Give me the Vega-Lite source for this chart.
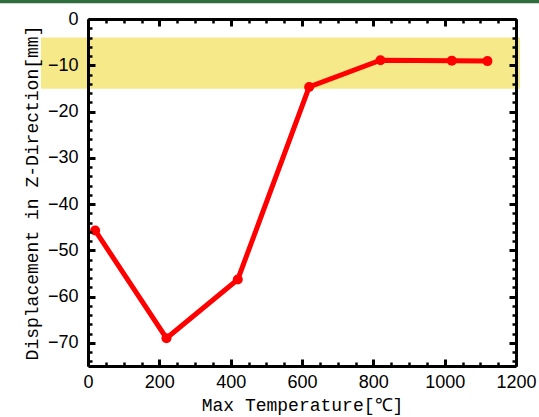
{
  "$schema": "https://vega.github.io/schema/vega-lite/v6.json",
  "width": 428,
  "height": 347,
  "autosize": {"type": "none"},
  "padding": {"left": 88, "top": 19, "right": 23, "bottom": 51},
  "background": "white",
  "view": {"stroke": null},
  "config": {
    "axis": {
      "grid": false,
      "domainColor": "black",
      "tickColor": "black",
      "labelColor": "black",
      "titleColor": "black",
      "labelFont": "Liberation Sans",
      "labelFontSize": 18,
      "titleFont": "Liberation Mono",
      "titleFontSize": 18,
      "titleFontWeight": "normal"
    }
  },
  "datasets": {
    "series": [
      {"t": 20, "d": -45.7},
      {"t": 220, "d": -69.0},
      {"t": 420, "d": -56.3},
      {"t": 620, "d": -14.7},
      {"t": 820, "d": -8.9},
      {"t": 1020, "d": -9.0},
      {"t": 1120, "d": -9.1}
    ],
    "band": [{"x1": -132, "x2": 1211, "y1": -4, "y2": -15.1}],
    "strip": [{"x1": -260, "x2": 1280, "y1": 3.4, "y2": 4.3}]
  },
  "layer": [
    {
      "data": {"name": "band"},
      "mark": {"type": "rect", "color": "#f5e98a", "opacity": 1},
      "encoding": {
        "x": {
          "field": "x1", "type": "quantitative",
          "scale": {"domain": [0, 1200], "nice": false, "zero": false},
          "axis": {
            "orient": "bottom", "title": "Max Temperature[℃]", "format": "d",
            "values": [0, 200, 400, 600, 800, 1000, 1200],
            "ticks": false, "domain": true, "domainWidth": 3, "zindex": 2,
            "labelPadding": 7, "titlePadding": 5, "labelFlush": false
          }
        },
        "x2": {"field": "x2"},
        "y": {
          "field": "y1", "type": "quantitative",
          "scale": {"domain": [-75, 0], "nice": false, "zero": false},
          "axis": {
            "orient": "left", "title": "Displacement in Z-Direction[mm]", "format": "d",
            "values": [0, -10, -20, -30, -40, -50, -60, -70],
            "ticks": false, "domain": true, "domainWidth": 3, "zindex": 2,
            "labelPadding": 10, "titlePadding": 6, "labelFlush": false
          }
        },
        "y2": {"field": "y2"}
      }
    },
    {
      "data": {"name": "strip"},
      "mark": {"type": "rect", "color": "#2f6e3c"},
      "encoding": {
        "x": {
          "field": "x1", "type": "quantitative",
          "axis": {
            "orient": "top", "title": null, "labels": false, "zindex": 2,
            "values": [0, 200, 400, 600, 800, 1000, 1200],
            "ticks": true, "tickSize": -7, "tickWidth": 3,
            "domain": true, "domainWidth": 3
          }
        },
        "x2": {"field": "x2"},
        "y": {
          "field": "y1", "type": "quantitative",
          "axis": {
            "orient": "right", "title": null, "labels": false, "zindex": 2,
            "values": [0, -10, -20, -30, -40, -50, -60, -70],
            "ticks": true, "tickSize": -7, "tickWidth": 3,
            "domain": true, "domainWidth": 3
          }
        },
        "y2": {"field": "y2"}
      }
    },
    {
      "data": {"name": "series"},
      "mark": {"type": "line", "color": "#ff0000", "strokeWidth": 5},
      "encoding": {
        "x": {
          "field": "t", "type": "quantitative",
          "axis": {
            "orient": "bottom", "title": null, "labels": false, "zindex": 2,
            "values": [0, 200, 400, 600, 800, 1000, 1200],
            "ticks": true, "tickSize": -7, "tickWidth": 3, "domain": false
          }
        },
        "y": {
          "field": "d", "type": "quantitative",
          "axis": {
            "orient": "left", "title": null, "labels": false, "zindex": 2,
            "values": [0, -10, -20, -30, -40, -50, -60, -70],
            "ticks": true, "tickSize": -7, "tickWidth": 3, "domain": false
          }
        }
      }
    },
    {
      "data": {"name": "series"},
      "mark": {"type": "point", "filled": true, "color": "#ff0000", "size": 100, "opacity": 1},
      "encoding": {
        "x": {
          "field": "t", "type": "quantitative",
          "axis": {
            "orient": "bottom", "title": null, "labels": false, "zindex": 2,
            "values": [50, 100, 150, 250, 300, 350, 450, 500, 550, 650, 700, 750, 850, 900, 950, 1050, 1100, 1150],
            "ticks": true, "tickSize": -4, "tickWidth": 2.5, "domain": false
          }
        },
        "y": {
          "field": "d", "type": "quantitative",
          "axis": {
            "orient": "left", "title": null, "labels": false, "zindex": 2,
            "values": [-2, -4, -6, -8, -12, -14, -16, -18, -22, -24, -26, -28, -32, -34, -36, -38, -42, -44, -46, -48, -52, -54, -56, -58, -62, -64, -66, -68, -72, -74],
            "ticks": true, "tickSize": -4, "tickWidth": 2.5, "domain": false
          }
        }
      }
    },
    {
      "data": {"name": "series"},
      "mark": {"type": "point", "opacity": 0},
      "encoding": {
        "x": {
          "field": "t", "type": "quantitative",
          "axis": {
            "orient": "top", "title": null, "labels": false, "zindex": 2,
            "values": [50, 100, 150, 250, 300, 350, 450, 500, 550, 650, 700, 750, 850, 900, 950, 1050, 1100, 1150],
            "ticks": true, "tickSize": -4, "tickWidth": 2.5, "domain": false
          }
        },
        "y": {
          "field": "d", "type": "quantitative",
          "axis": {
            "orient": "right", "title": null, "labels": false, "zindex": 2,
            "values": [-2, -4, -6, -8, -12, -14, -16, -18, -22, -24, -26, -28, -32, -34, -36, -38, -42, -44, -46, -48, -52, -54, -56, -58, -62, -64, -66, -68, -72, -74],
            "ticks": true, "tickSize": -4, "tickWidth": 2.5, "domain": false
          }
        }
      }
    }
  ],
  "resolve": {"axis": {"x": "independent", "y": "independent"}}
}
